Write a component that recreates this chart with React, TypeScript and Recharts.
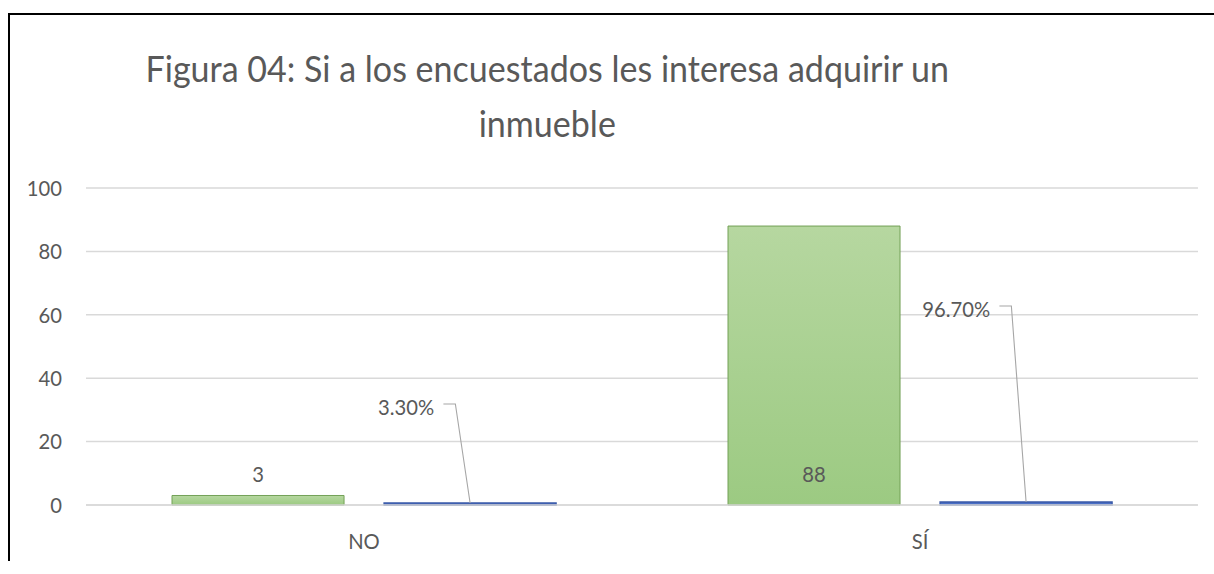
import { BarChart, Bar, XAxis, YAxis, CartesianGrid, LabelList } from "recharts";

const categories = ["NO", "SÍ"];
const counts = [3, 88];
const shares = [0.033, 0.967];
const yTicks = [0, 20, 40, 60, 80, 100];

const data = categories.map((name, i) => ({ name, count: counts[i], share: shares[i] }));

// the source image is squeezed sideways, so the whole chart is drawn wide and scaled in x
const SX = 0.92;
const W = 1204 / SX;
const H = 559;
const FONT = "Lato, 'Open Sans', sans-serif";
const TXT = "#595959";
// how far above the axis each leader line of the % labels starts (px)
const LEADER_RISE = [101, 199];

const CountLabel = (p: any) => {
  const cx = p.x + p.width / 2;
  const base = p.y + p.height;
  return (
    <text x={cx} y={base - 31} textAnchor="middle" dominantBaseline="central" fill={TXT} fontSize={22} fontFamily={FONT}>
      {p.value}
    </text>
  );
};

const ShareLabel = (p: any) => {
  const cx = p.x + p.width / 2;
  const top = p.y;
  const ly = p.y + p.height - LEADER_RISE[p.index];
  return (
    <g>
      <polyline points={`${cx - 29},${ly} ${cx - 16},${ly} ${cx},${top}`} fill="none" stroke="#a6a6a6" strokeWidth={1.2} />
      <text x={cx - 39} y={ly + 3} textAnchor="end" dominantBaseline="central" fill={TXT} fontSize={22} fontFamily={FONT}>
        {(p.value * 100).toFixed(2) + "%"}
      </text>
    </g>
  );
};

export default function App() {
  return (
    <>
      <style>{`body{margin:0;overflow:hidden;background:#fff}`}</style>
      <div
        style={{
          position: "relative",
          left: 8,
          top: 13,
          width: 1206,
          height: 561,
          boxSizing: "border-box",
          borderTop: "2px solid #000",
          borderLeft: "2px solid #000",
          overflow: "hidden",
        }}
      >
        <div style={{ position: "relative", width: W, height: H, transform: `scaleX(${SX})`, transformOrigin: "0 0" }}>
          <svg width={W} height={150} style={{ position: "absolute", left: 0, top: 0, pointerEvents: "none" }}>
            <text x={584} y={67} textAnchor="middle" fill={TXT} fontSize={37} fontFamily={FONT}>
              Figura 04: Si a los encuestados les interesa adquirir un
            </text>
            <text x={584} y={122} textAnchor="middle" fill={TXT} fontSize={37} fontFamily={FONT}>
              inmueble
            </text>
          </svg>
          <BarChart
            width={W}
            height={H}
            data={data}
            margin={{ top: 173, right: 17.4, bottom: 39, left: 0 }}
            barCategoryGap={93.5}
            barGap={43.5}
          >
            <defs>
              <linearGradient id="greenFill" x1="0" y1="0" x2="0" y2="1">
                <stop offset="0%" stopColor="#b6d7a0" />
                <stop offset="100%" stopColor="#9cca82" />
              </linearGradient>
            </defs>
            <CartesianGrid vertical={false} stroke="#d9d9d9" strokeWidth={1.5} />
            <XAxis
              dataKey="name"
              height={30}
              axisLine={{ stroke: "#d9d9d9", strokeWidth: 1.5 }}
              tickLine={false}
              tickMargin={22}
              tick={{ fill: TXT, fontSize: 22, fontFamily: FONT }}
            />
            <YAxis
              width={82.6}
              domain={[0, 100]}
              ticks={yTicks}
              axisLine={false}
              tickLine={false}
              tickMargin={20}
              tick={{ fill: TXT, fontSize: 22, fontFamily: FONT }}
            />
            <Bar dataKey="count" fill="url(#greenFill)" stroke="#6f9e52" strokeWidth={1} isAnimationActive={false}>
              <LabelList dataKey="count" content={CountLabel} />
            </Bar>
            <Bar dataKey="share" fill="#4a6fc6" stroke="#3a5aa8" strokeWidth={1.5} minPointSize={2} isAnimationActive={false}>
              <LabelList dataKey="share" content={ShareLabel} />
            </Bar>
          </BarChart>
        </div>
      </div>
    </>
  );
}
